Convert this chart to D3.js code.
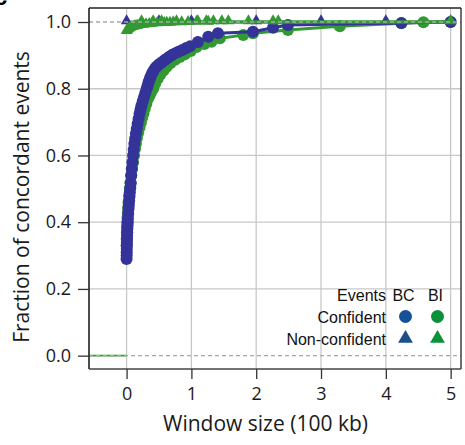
<!DOCTYPE html>
<html>
<head>
<meta charset="utf-8">
<script src="https://cdn.jsdelivr.net/npm/d3@7"></script>
<style>
  html, body { margin: 0; padding: 0; background: #fff; }
  svg { display: block; }
</style>
</head>
<body>
<svg id="chart" width="465" height="445"></svg>
<script>
// ---------------- data ----------------
const xTicks = [0, 1, 2, 3, 4, 5];
const yTicks = [0, 0.2, 0.4, 0.6, 0.8, 1.0];
const refLines = [0, 1];

// BC, confident events (circles)
const bcConfX = [0, 0.001, 0.002, 0.003, 0.004, 0.005, 0.007, 0.008, 0.01, 0.012, 0.015, 0.018, 0.02, 0.025, 0.03, 0.035, 0.04, 0.045, 0.05, 0.057, 0.064, 0.072, 0.08, 0.09, 0.1, 0.11, 0.12, 0.132, 0.144, 0.157, 0.17, 0.185, 0.2, 0.215, 0.23, 0.25, 0.27, 0.29, 0.31, 0.325, 0.34, 0.355, 0.37, 0.39, 0.41, 0.435, 0.46, 0.49, 0.52, 0.555, 0.59, 0.625, 0.66, 0.7, 0.745, 0.8, 0.86, 0.92, 0.98, 1.1, 1.26, 1.41, 1.95, 2.26, 2.49, 4.24, 5.0];
const bcConfY = [0.29, 0.30, 0.31, 0.32, 0.33, 0.34, 0.35, 0.36, 0.37, 0.38, 0.39, 0.40, 0.41, 0.425, 0.44, 0.452, 0.465, 0.477, 0.49, 0.503, 0.517, 0.54, 0.56, 0.58, 0.60, 0.618, 0.635, 0.65, 0.666, 0.68, 0.695, 0.71, 0.725, 0.738, 0.75, 0.763, 0.775, 0.788, 0.80, 0.81, 0.82, 0.828, 0.836, 0.845, 0.852, 0.86, 0.866, 0.871, 0.876, 0.881, 0.886, 0.891, 0.896, 0.901, 0.906, 0.911, 0.916, 0.922, 0.927, 0.94, 0.956, 0.966, 0.971, 0.983, 0.991, 0.997, 1.0];

// BI, confident events (circles)
const biConfX = [0, 0.002, 0.005, 0.007, 0.01, 0.015, 0.02, 0.025, 0.03, 0.04, 0.05, 0.06, 0.07, 0.085, 0.1, 0.115, 0.13, 0.145, 0.16, 0.18, 0.2, 0.22, 0.24, 0.26, 0.28, 0.305, 0.33, 0.355, 0.38, 0.41, 0.44, 0.48, 0.52, 0.57, 0.62, 0.68, 0.75, 0.82, 0.9, 0.99, 1.08, 1.2, 1.31, 1.44, 1.8, 1.95, 2.49, 3.29, 4.24, 4.58, 5.0];
const biConfY = [0.33, 0.35, 0.37, 0.385, 0.40, 0.415, 0.43, 0.445, 0.46, 0.48, 0.50, 0.52, 0.54, 0.56, 0.58, 0.60, 0.62, 0.636, 0.652, 0.668, 0.684, 0.698, 0.712, 0.726, 0.74, 0.755, 0.77, 0.78, 0.79, 0.80, 0.815, 0.83, 0.843, 0.855, 0.866, 0.877, 0.887, 0.895, 0.903, 0.913, 0.925, 0.934, 0.941, 0.951, 0.961, 0.966, 0.976, 0.987, 0.996, 0.999, 1.0];

// BC, non-confident events (triangles)
const bcNonX = [0, 0.5, 1, 2, 3, 4, 5];
const bcNonY = [1, 1, 1, 1, 1, 1, 1];

// BI, non-confident events (triangles)
const biNonX = [0, 0.01, 0.02, 0.035, 0.05, 0.065, 0.08, 0.1, 0.12, 0.145, 0.17, 0.21, 0.23, 0.26, 0.3, 0.35, 0.39, 0.41, 0.47, 0.515, 0.54, 0.58, 0.62, 0.67, 0.72, 0.77, 0.85, 0.95, 1.08, 1.1, 1.23, 1.26, 1.34, 1.47, 1.57, 1.88, 2.26, 2.34, 5.0];
const biNonY = [0.971, 0.973, 0.976, 0.978, 0.98, 0.982, 0.983, 0.984, 0.985, 0.986, 0.987, 0.989, 1.0, 0.99, 0.991, 0.992, 0.993, 1.0, 0.994, 0.995, 1.0, 0.995, 0.996, 0.996, 0.997, 1.0, 0.997, 0.998, 0.999, 1.0, 1.0, 0.999, 1.0, 1.0, 1.0, 1.0, 1.0, 1.0, 1.0];

// BI curve extends to the left edge at 0
const biBaseX = [-1, 0];
const biBaseY = [0, 0];

const legendRows = ["Confident", "Non-confident"];
const legendCols = ["BC", "BI"];
const legendTitle = "Events";
const xTitle = "Window size (100 kb)";
const yTitle = "Fraction of concordant events";

// ---------------- layout ----------------
const L = 89, R = 461, T = 8, B = 369;
const svg = d3.select("#chart");
const x = d3.scaleLinear().domain([-0.58, 5.16]).range([L, R]);
const y = d3.scaleLinear().domain([-0.04, 1.042]).range([B, T]);

const BLUE = "#333399", GREEN = "#339933";
const LEG_BLUE = "#15509a", LEG_GREEN = "#0a9139";
const tickFont = "'Open Sans', 'Noto Sans', sans-serif";

svg.append("defs").append("clipPath").attr("id", "clip")
  .append("rect").attr("x", L).attr("y", T).attr("width", R - L).attr("height", B - T);

// grid
const grid = svg.append("g");
grid.selectAll("line.v").data(xTicks).join("line")
  .attr("x1", d => x(d)).attr("x2", d => x(d)).attr("y1", T).attr("y2", B)
  .attr("stroke", "#c8c8c8").attr("stroke-width", 1.3);
grid.selectAll("line.h").data(yTicks.filter(d => !refLines.includes(d))).join("line")
  .attr("x1", L).attr("x2", R).attr("y1", d => y(d)).attr("y2", d => y(d))
  .attr("stroke", "#c8c8c8").attr("stroke-width", 1.3);

// data
const plot = svg.append("g").attr("clip-path", "url(#clip)");
const zip = (xs, ys) => xs.map((v, i) => [v, ys[i]]);
const line = d3.line().x(d => x(d[0])).y(d => y(d[1]));
const tri = d3.symbol().type(d3.symbolTriangle).size(58);

plot.append("path").datum(zip(biBaseX, biBaseY)).attr("d", line)
  .attr("fill", "none").attr("stroke", GREEN).attr("stroke-width", 1.8);

function drawCircles(xs, ys, color) {
  const pts = zip(xs, ys);
  plot.append("path").datum(pts).attr("d", line)
    .attr("fill", "none").attr("stroke", color).attr("stroke-width", 3);
  plot.append("g").selectAll("circle").data(pts).join("circle")
    .attr("cx", d => x(d[0])).attr("cy", d => y(d[1])).attr("r", 6)
    .attr("fill", color);
}
function drawTriangles(xs, ys, color, lw) {
  const pts = zip(xs, ys);
  plot.append("path").datum(pts).attr("d", line)
    .attr("fill", "none").attr("stroke", color).attr("stroke-width", lw);
  plot.append("g").selectAll("path").data(pts).join("path")
    .attr("d", tri).attr("transform", d => `translate(${x(d[0])},${y(d[1]) - 1})`)
    .attr("fill", color);
}
drawCircles(biConfX, biConfY, GREEN);
drawCircles(bcConfX, bcConfY, BLUE);
drawTriangles(bcNonX, bcNonY, BLUE, 1);
drawTriangles(biNonX, biNonY, GREEN, 3.5);

// reference dashed lines
svg.append("g").selectAll("line").data(refLines).join("line")
  .attr("x1", L).attr("x2", R).attr("y1", d => y(d)).attr("y2", d => y(d))
  .attr("stroke", "#a8a8a8").attr("stroke-width", 1.3).attr("stroke-dasharray", "4,3");

// frame
svg.append("line").attr("x1", L).attr("x2", R).attr("y1", T).attr("y2", T).attr("stroke", "#222").attr("stroke-width", 1.3);
svg.append("line").attr("x1", R).attr("x2", R).attr("y1", T).attr("y2", B).attr("stroke", "#222").attr("stroke-width", 1.3);

// axes
const yAxis = svg.append("g").attr("transform", `translate(${L},0)`)
  .call(d3.axisLeft(y).tickValues(yTicks).tickFormat(d3.format(".1f")).tickSize(11).tickPadding(7));
const xAxis = svg.append("g").attr("transform", `translate(0,${B})`)
  .call(d3.axisBottom(x).tickValues(xTicks).tickFormat(d3.format("d")).tickSize(10).tickPadding(8));
yAxis.select(".domain").attr("stroke", "#111").attr("stroke-width", 1.5).attr("d", `M0,${T}V${B}`);
xAxis.select(".domain").attr("stroke", "#444").attr("stroke-width", 1.5).attr("d", `M${L},0H${R}`);
svg.selectAll(".tick line").attr("stroke", "#333").attr("stroke-width", 1.3);
svg.selectAll(".tick text").attr("font-family", tickFont).attr("font-size", 18).attr("fill", "#1a1a1a");
xAxis.selectAll(".tick text").attr("dy", "0.71em");

// titles
svg.append("text").attr("x", 265.5).attr("y", 431)
  .attr("text-anchor", "middle").attr("font-family", tickFont).attr("font-size", 21)
  .attr("fill", "#1a1a1a").text(xTitle);
svg.append("text").attr("transform", "translate(29,197) rotate(-90)")
  .attr("text-anchor", "middle").attr("font-family", tickFont).attr("font-size", 21)
  .attr("fill", "#1a1a1a").text(yTitle);

// panel letter fragment (cut off at the corner, as in the original figure)
svg.append("text").attr("x", -6).attr("y", 5).attr("font-family", "'Liberation Sans', Arial, sans-serif")
  .attr("font-weight", "bold").attr("font-size", 24).attr("fill", "#000").text("c");

// legend
const legFont = "'Liberation Sans', Arial, Helvetica, sans-serif";
const lg = svg.append("g").attr("font-family", legFont).attr("font-size", 16).attr("fill", "#111");
const colX = [403.5, 435.5];
const rowY = [316.5, 338.5];
lg.append("text").attr("x", 386).attr("y", 301).attr("text-anchor", "end").text(legendTitle);
lg.selectAll("text.col").data(legendCols).join("text").attr("class", "col")
  .attr("x", (d, i) => colX[i]).attr("y", 301).attr("text-anchor", "middle").text(d => d);
lg.selectAll("text.row").data(legendRows).join("text").attr("class", "row")
  .attr("x", 386).attr("y", (d, i) => rowY[i] + 6).attr("text-anchor", "end").text(d => d);
const legColors = [LEG_BLUE, LEG_GREEN];
lg.selectAll("circle").data(legendCols).join("circle")
  .attr("cx", (d, i) => colX[i] + 2).attr("cy", rowY[0]).attr("r", 6.5).attr("fill", (d, i) => legColors[i]);
const legTri = d3.symbol().type(d3.symbolTriangle).size(95);
lg.selectAll("path").data(legendCols).join("path")
  .attr("d", legTri).attr("transform", (d, i) => `translate(${colX[i] + 2},${rowY[1]})`)
  .attr("fill", (d, i) => i === 0 ? "#1a4f88" : LEG_GREEN);
</script>
</body>
</html>
